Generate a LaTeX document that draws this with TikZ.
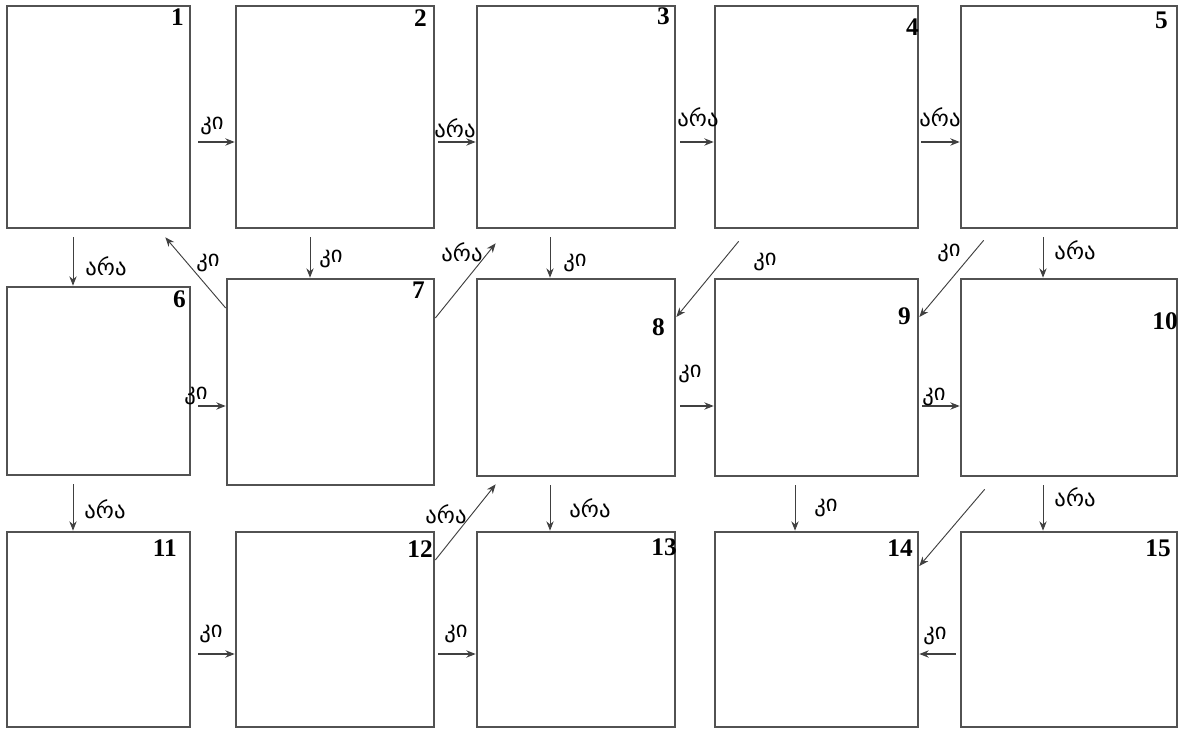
\documentclass[tikz,border=0pt]{standalone}
\usepackage{fontspec}
\setmainfont{Liberation Serif}
\newfontfamily\geo{DejaVu Sans}
\usetikzlibrary{arrows.meta,fit,calc}
\begin{document}
\begin{tikzpicture}[x=0.75pt,y=-0.75pt,
 box/.style={draw=black!68, line width=2pt, inner sep=0pt, fill=white},
 num/.style={font=\bfseries\fontsize{19}{19}\selectfont, inner sep=0pt, anchor=north east},
 lab/.style={font=\geo\fontsize{17}{17}\selectfont, inner sep=0pt},
 arr/.style={draw=black!75, line width=1pt, -{Stealth[length=7pt,width=5.5pt]}},
 thin/.style={line width=0.7pt}]
\fill[white] (0,0) rectangle (1184,730);
\useasboundingbox (0,0) rectangle (1184,730);
% boxes
\node[box, fit={(7,6) (190,228)}] (b1) {};
\node[box, fit={(236,6) (434,228)}] (b2) {};
\node[box, fit={(477,6) (675,228)}] (b3) {};
\node[box, fit={(715,6) (918,228)}] (b4) {};
\node[box, fit={(961,6) (1177,228)}] (b5) {};
\node[box, fit={(7,287) (190,475)}] (b6) {};
\node[box, fit={(227,279) (434,485)}] (b7) {};
\node[box, fit={(477,279) (675,476)}] (b8) {};
\node[box, fit={(715,279) (918,476)}] (b9) {};
\node[box, fit={(961,279) (1177,476)}] (b10) {};
\node[box, fit={(7,532) (190,727)}] (b11) {};
\node[box, fit={(236,532) (434,727)}] (b12) {};
\node[box, fit={(477,532) (675,727)}] (b13) {};
\node[box, fit={(715,532) (918,727)}] (b14) {};
\node[box, fit={(961,532) (1177,727)}] (b15) {};
% numbers
\node[num] (n1) at (184,9) {1};
\node[num] (n2) at (427,9) {2};
\node[num] (n3) at (670,7) {3};
\node[num] (n4) at (919,19) {4};
\node[num] (n5) at (1168,12) {5};
\node[num] (n6) at (186,290) {6};
\node[num] (n7) at (425,282) {7};
\node[num] (n8) at (665,318) {8};
\node[num] (n9) at (911,307) {9};
\node[num] (n10) at (1178,312) {10};
\node[num] (n11) at (177,540) {11};
\node[num] (n12) at (433,540) {12};
\node[num] (n13) at (677,538) {13};
\node[num] (n14) at (913,540) {14};
\node[num] (n15) at (1171,540) {15};
% horizontal arrows
\draw[arr] (b1.east |- 0,142) ++(7,0) -- (b2.west |- 0,142);
\draw[arr] (b2.east |- 0,142) ++(3,0) -- (b3.west |- 0,142);
\draw[arr] (b3.east |- 0,142) ++(4,0) -- (b4.west |- 0,142);
\draw[arr] (b4.east |- 0,142) ++(2,0) -- (b5.west |- 0,142);
\draw[arr] (b6.east |- 0,406) ++(7,0) -- (b7.west |- 0,406);
\draw[arr] (b8.east |- 0,406) ++(4,0) -- (b9.west |- 0,406);
\draw[arr] (b9.east |- 0,406) ++(3,0) -- (b10.west |- 0,406);
\draw[arr] (b11.east |- 0,654) ++(7,0) -- (b12.west |- 0,654);
\draw[arr] (b12.east |- 0,654) ++(3,0) -- (b13.west |- 0,654);
\draw[arr] (b15.west |- 0,654) ++(-4,0) -- (b14.east |- 0,654);
% vertical arrows
\draw[arr,thin] (b1.south -| 73,0) ++(0,8) -- (b6.north -| 73,0);
\draw[arr,thin] (b2.south -| 310,0) ++(0,8) -- (b7.north -| 310,0);
\draw[arr,thin] (b3.south -| 550,0) ++(0,8) -- (b8.north -| 550,0);
\draw[arr,thin] (b5.south -| 1043,0) ++(0,8) -- (b10.north -| 1043,0);
\draw[arr,thin] (b6.south -| 73,0) ++(0,8) -- (b11.north -| 73,0);
\draw[arr,thin] (b8.south -| 550,0) ++(0,8) -- (b13.north -| 550,0);
\draw[arr,thin] (b9.south -| 795,0) ++(0,8) -- (b14.north -| 795,0);
\draw[arr,thin] (b10.south -| 1043,0) ++(0,8) -- (b15.north -| 1043,0);
% diagonal arrows
\draw[arr,thin] (b7.west |- 0,308) -- ($(b1.south east)+(-26,8)$);
\draw[arr,thin] (b7.east |- 0,318) -- ($(b3.south west)+(20,14)$);
\draw[arr,thin] ($(b4.south west)+(25,12)$) -- (b8.east |- 0,317);
\draw[arr,thin] ($(b5.south west)+(24,11)$) -- (b9.east |- 0,317);
\draw[arr,thin] (b12.east |- 0,560) -- ($(b8.south west)+(20,7)$);
\draw[arr,thin] ($(b10.south west)+(25,12)$) -- (b14.east |- 0,566);
% labels
\node[lab] (l12) at (212,126) {კი};
\node[lab] (l23) at (455,128) {არა};
\node[lab] (l34) at (698,117) {არა};
\node[lab] (l45) at (940,117) {არა};
\node[lab] (l16) at (106,266) {არა};
\node[lab] (l71) at (208,263) {კი};
\node[lab] (l27) at (331,259) {კი};
\node[lab] (l73) at (462,252) {არა};
\node[lab] (l38) at (575,263) {კი};
\node[lab] (l48) at (765,262) {კი};
\node[lab] (l59) at (949,253) {კი};
\node[lab] (l510) at (1075,250) {არა};
\node[lab] (l67) at (196,396) {კი};
\node[lab] (l89) at (690,374) {კი};
\node[lab] (l910) at (934,397) {კი};
\node[lab] (l611) at (105,509) {არა};
\node[lab] (l813) at (590,508) {არა};
\node[lab] (l128) at (446,514) {არა};
\node[lab] (l914) at (826,508) {კი};
\node[lab] (l1015) at (1075,497) {არა};
\node[lab] (l1112) at (211,634) {კი};
\node[lab] (l1213) at (456,634) {კი};
\node[lab] (l1514) at (935,636) {კი};
\end{tikzpicture}
\end{document}
